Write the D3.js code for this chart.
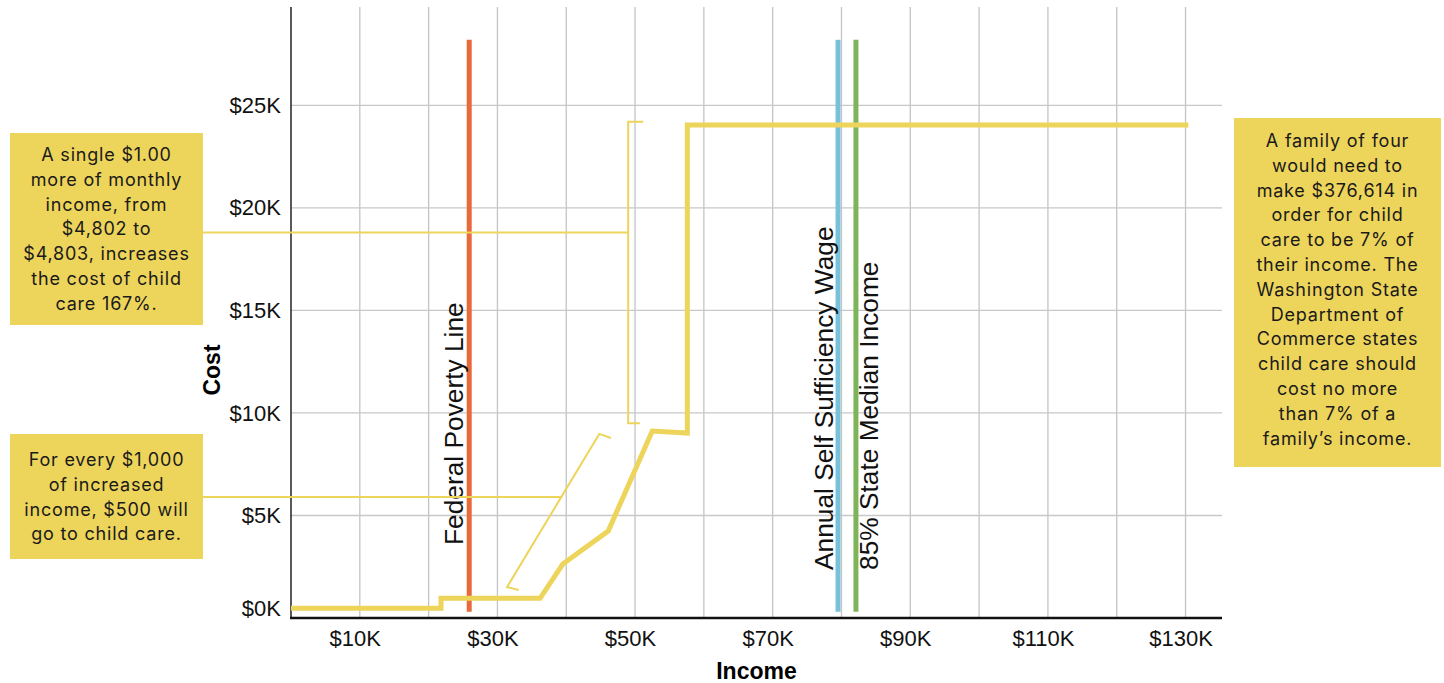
<!DOCTYPE html>
<html>
<head>
<meta charset="utf-8">
<script src="https://cdn.jsdelivr.net/npm/d3@7"></script>
<style>
  html, body { margin: 0; padding: 0; background: #fff; }
  svg { display: block; }
</style>
</head>
<body>
<div id="app"></div>
<script>
// ---- data ----
const incomes = [0, 21800, 21800, 36200, 39500, 46100, 52500, 57600, 57600, 130400];
const costs   = [480, 480, 960, 960, 2630, 4240, 9120, 9020, 24050, 24050];

const xTicks = [10000, 30000, 50000, 70000, 90000, 110000, 130000];
const xGrid  = [10000, 20000, 30000, 40000, 50000, 60000, 70000, 80000, 90000, 100000, 110000, 120000, 130000];
const yTicks = [0, 5000, 10000, 15000, 20000, 25000];

const refNames   = ["Federal Poverty Line", "Annual Self Sufficiency Wage", "85% State Median Income"];
const refIncomes = [25900, 79500, 82100];
const refSpan    = [300, 28200];

const note1 = ["A single $1.00", "more of monthly", "income, from", "$4,802 to", "$4,803, increases", "the cost of child", "care 167%."];
const note2 = ["For every $1,000", "of increased", "income, $500 will", "go to child care."];
const note3 = ["A family of four", "would need to", "make $376,614 in", "order for child", "care to be 7% of", "their income. The", "Washington State", "Department of", "Commerce states", "child care should", "cost no more", "than 7% of a", "family\u2019s income."];

// bracket / leader points in data units [income, cost]
const bracket1 = [[51200, 24200], [49000, 24200], [49000, 9500], [50700, 9500]];
const leader1  = { cost: 18800, income: 48900 };
const bracket2 = [[46500, 8780], [44800, 8980], [31400, 1510], [33100, 1370]];
const leader2  = { cost: 5900, income: 39400 };

// ---- layout ----
const W = 1444, H = 683;
const plot = { left: 291, right: 1222, top: 7, bottom: 618 };
const yellow = "#edd45a";
const refColors = ["#e8693a", "#78c1da", "#7db45a"];
const sans = "'Liberation Sans', Arial, Helvetica, sans-serif";
const noteFont = "Inter, 'Noto Sans', sans-serif";

const svg = d3.select("#app").append("svg")
  .attr("width", W).attr("height", H)
  .attr("viewBox", `0 0 ${W} ${H}`);

const x = d3.scaleLinear().domain([0, 135300]).range([plot.left, plot.right]);
const y = d3.scaleLinear().domain([0, 29800]).range([plot.bottom, plot.top]);

// grid
svg.append("g").selectAll("line")
  .data(xGrid).join("line")
  .attr("x1", d => x(d)).attr("x2", d => x(d))
  .attr("y1", plot.top).attr("y2", plot.bottom)
  .attr("stroke", "#c4c4c4").attr("stroke-width", 1.3);

svg.append("g").selectAll("line")
  .data(yTicks.filter(d => d > 0)).join("line")
  .attr("x1", plot.left).attr("x2", plot.right)
  .attr("y1", d => y(d)).attr("y2", d => y(d))
  .attr("stroke", "#c8c8c8").attr("stroke-width", 1.3);

// axes
const yAxis = svg.append("g")
  .attr("transform", `translate(${plot.left},0)`)
  .call(d3.axisLeft(y).tickValues(yTicks).tickSize(0).tickPadding(10)
    .tickFormat(d => `$${d / 1000}K`));
yAxis.select(".domain").remove();
yAxis.selectAll("text")
  .attr("font-family", sans).attr("font-size", 22).attr("fill", "#111")
  .attr("dy", d => d === 0 ? "-0.1em" : "0.32em");

const xAxis = svg.append("g")
  .attr("transform", `translate(0,${plot.bottom})`)
  .call(d3.axisBottom(x).tickValues(xTicks).tickSize(0).tickPadding(12)
    .tickFormat(d => `$${d / 1000}K`));
xAxis.select(".domain").remove();
xAxis.selectAll("text")
  .attr("font-family", sans).attr("font-size", 22).attr("fill", "#111")
  .attr("dx", -5);

svg.append("line")
  .attr("x1", plot.left).attr("x2", plot.left)
  .attr("y1", plot.top).attr("y2", plot.bottom)
  .attr("stroke", "#222").attr("stroke-width", 1.5);
svg.append("line")
  .attr("x1", plot.left - 1).attr("x2", plot.right)
  .attr("y1", plot.bottom).attr("y2", plot.bottom)
  .attr("stroke", "#111").attr("stroke-width", 2.5);

// axis titles
svg.append("text")
  .attr("transform", `translate(220,370) rotate(-90)`)
  .attr("text-anchor", "middle")
  .attr("font-family", sans).attr("font-weight", "bold").attr("font-size", 23)
  .text("Cost");
svg.append("text")
  .attr("x", (plot.left + plot.right) / 2).attr("y", 679)
  .attr("text-anchor", "middle")
  .attr("font-family", sans).attr("font-weight", "bold").attr("font-size", 23)
  .text("Income");

// reference lines
const refs = refNames.map((name, i) => ({ name, income: refIncomes[i], color: refColors[i] }));
svg.append("g").selectAll("line")
  .data(refs).join("line")
  .attr("x1", d => x(d.income)).attr("x2", d => x(d.income))
  .attr("y1", y(refSpan[0])).attr("y2", y(refSpan[1]))
  .attr("stroke", d => d.color).attr("stroke-width", 5);

const labelOffsets = [[-6, -73], [-5, -48], [22, -48]];
svg.append("g").selectAll("text")
  .data(refs).join("text")
  .attr("transform", (d, i) => `translate(${x(d.income) + labelOffsets[i][0]},${y(0) + labelOffsets[i][1]}) rotate(-90)`)
  .attr("font-family", sans).attr("font-size", 26.3).attr("fill", "#111")
  .text(d => d.name);

// main cost line
const line = d3.line().x(d => x(d[0])).y(d => y(d[1]));
svg.append("path")
  .datum(incomes.map((v, i) => [v, costs[i]]))
  .attr("d", line)
  .attr("fill", "none").attr("stroke", yellow).attr("stroke-width", 5)
  .attr("stroke-linejoin", "miter");

// brackets and leaders
const boxes = [
  { lines: note1, x: 10, y: 133, w: 193, h: 192, first: 161 },
  { lines: note2, x: 10, y: 434, w: 193, h: 125, first: 466 },
  { lines: note3, x: 1234, y: 118, w: 207, h: 349, first: 147 }
];

[bracket1, bracket2].forEach(b => {
  svg.append("path").attr("d", line(b))
    .attr("fill", "none").attr("stroke", yellow).attr("stroke-width", 2);
});
[leader1, leader2].forEach(l => {
  svg.append("line")
    .attr("x1", boxes[0].x + boxes[0].w).attr("x2", x(l.income))
    .attr("y1", y(l.cost)).attr("y2", y(l.cost))
    .attr("stroke", yellow).attr("stroke-width", 2);
});

// annotation boxes
boxes.forEach(b => {
  const g = svg.append("g");
  g.append("rect")
    .attr("x", b.x).attr("y", b.y).attr("width", b.w).attr("height", b.h)
    .attr("fill", yellow);
  g.selectAll("text").data(b.lines).join("text")
    .attr("x", b.x + b.w / 2)
    .attr("y", (d, i) => b.first + i * 24.8)
    .attr("text-anchor", "middle")
    .attr("font-family", noteFont).attr("font-size", 18).attr("fill", "#1a1a1a")
    .attr("letter-spacing", "0.8px")
    .text(d => d);
});
</script>
</body>
</html>
